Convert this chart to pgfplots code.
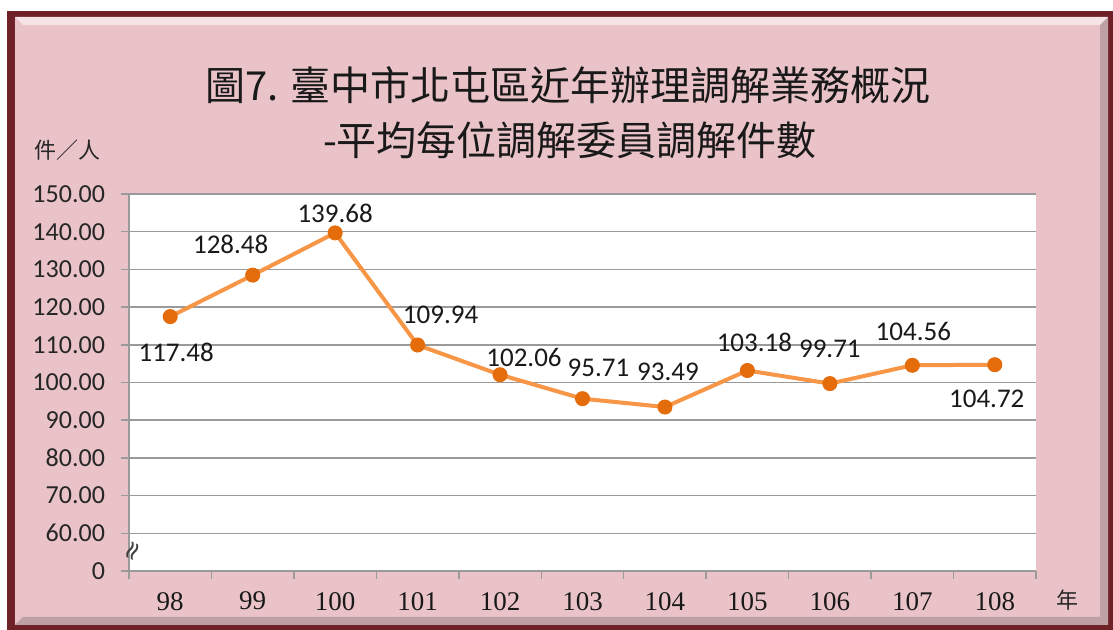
\documentclass[border=0pt]{standalone}
\usepackage{pgfplots}
\pgfplotsset{compat=1.18}
\usepackage{fontspec}
\setmainfont{Liberation Serif}
\newfontfamily\carlito{Carlito}
\newfontfamily\cjk{Noto Sans CJK TC}
\newfontfamily\dejavu{DejaVu Sans}
\definecolor{bgpink}{HTML}{E9C3C8}
\definecolor{framec}{HTML}{6E2228}
\definecolor{lineor}{HTML}{F79646}
\definecolor{markor}{HTML}{E46C0A}
\definecolor{gridg}{HTML}{9A9A9A}
\pgfplotsset{
  lbl/.style 2 args={draw=none, mark=none, nodes near coords, point meta=explicit symbolic,
    every node near coord/.append style={anchor=center, xshift=#1*0.5pt, yshift=#2*0.5pt,
     font=\carlito\fontsize{13.5pt}{15pt}\selectfont, text=black!90}},
}

\begin{document}
\begin{tikzpicture}
\begin{scope}[x=0.5pt,y=0.5pt]
\fill[white] (0,0) rectangle (1113,630);
\fill[framec] (7,0) rectangle (1113,{630-11});
\fill[bgpink] (15,5) rectangle (1108,{630-17});
\fill[white!55!bgpink] (15,{630-17}) -- (1108,{630-17}) -- (1100,{630-25}) -- (23,{630-25}) -- cycle;
\fill[bgpink!82!black] (1108,{630-17}) -- (1108,5) -- (1100,13) -- (1100,{630-25}) -- cycle;
\fill[bgpink!82!black] (15,5) -- (1108,5) -- (1100,13) -- (23,13) -- cycle;
\end{scope}
\begin{axis}[
  at={(64.5pt,29.5pt)}, anchor=south west, scale only axis,
  width=453.5pt, height=188.5pt,
  xmin=-0.5, xmax=10.5, ymin=50, ymax=150,
  axis background/.style={fill=white},
  axis x line*=bottom, axis y line*=left,
  axis line style={gridg, line width=0.75pt, -},
  xtick={-0.5,0.5,...,10.5}, xticklabels={},
  extra x ticks={0,1,2,3,4,5,6,7,8,9,10},
  extra x tick labels={98,99,100,101,102,103,104,105,106,107,108},
  extra x tick style={major tick length=0pt},
  tick align=outside,
  major tick length=4pt,
  ytick={50,60,70,80,90,100,110,120,130,140,150},
  yticklabels={0,60.00,70.00,80.00,90.00,100.00,110.00,120.00,130.00,140.00,150.00},
  ymajorgrids, grid style={gridg, line width=0.75pt},
  tick style={gridg, line width=0.75pt},
  yticklabel style={font=\carlito\fontsize{13pt}{15pt}\selectfont, text=black!85, xshift=-4.5pt},
  xticklabel style={font=\fontsize{13.5pt}{15pt}\selectfont, text=black!90, yshift=-7pt},
  clip=false,
]
\addplot[lineor, line width=2pt, mark=*, mark size=3.5pt,
  mark options={fill=markor, draw=markor, line width=0.5pt}]
  coordinates {(0,117.48) (1,128.48) (2,139.68) (3,109.94) (4,102.06) (5,95.71)
               (6,93.49) (7,103.18) (8,99.71) (9,104.56) (10,104.72)};
\addplot[lbl={6}{-36}]  coordinates {(0,117.48) [117.48]};
\addplot[lbl={-22}{31}] coordinates {(1,128.48) [128.48]};
\addplot[lbl={0}{20}]   coordinates {(2,139.68) [139.68]};
\addplot[lbl={23}{30}]  coordinates {(3,109.94) [109.94]};
\addplot[lbl={24}{17}]  coordinates {(4,102.06) [102.06]};
\addplot[lbl={16}{31}]  coordinates {(5,95.71) [95.71]};
\addplot[lbl={3}{35}]   coordinates {(6,93.49) [93.49]};
\addplot[lbl={7}{28}]   coordinates {(7,103.18) [103.18]};
\addplot[lbl={0}{35}]   coordinates {(8,99.71) [99.71]};
\addplot[lbl={1}{34}]   coordinates {(9,104.56) [104.56]};
\addplot[lbl={-8}{-34}] coordinates {(10,104.72) [104.72]};
\node[rotate=65, font=\dejavu\fontsize{13pt}{13pt}\selectfont, text=gray!50!black] at (axis cs:-0.44,55) {≈};
\end{axis}
\begin{scope}[x=0.5pt,y=0.5pt]
\node[font=\cjk\fontsize{20pt}{24pt}\selectfont, text=black!90] at (568,{630-85}) {圖7. 臺中市北屯區近年辦理調解業務概況};
\node[font=\cjk\fontsize{20pt}{24pt}\selectfont, text=black!90] at (570,{630-140}) {-平均每位調解委員調解件數};
\node[font=\cjk\fontsize{11pt}{13pt}\selectfont, text=black!85] at (67,{630-150}) {件／人};
\node[font=\cjk\fontsize{11pt}{13pt}\selectfont, text=black!85] at (1067,{630-600}) {年};
\end{scope}
\pgfresetboundingbox
\useasboundingbox (0,0) rectangle (556.5pt,315pt);
\end{tikzpicture}
\end{document}
